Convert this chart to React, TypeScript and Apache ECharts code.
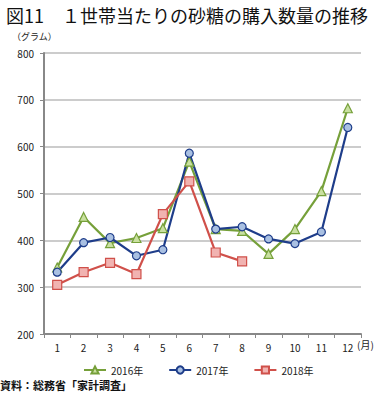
import React, { useEffect, useRef } from "react";
import * as echarts from "echarts";

const months = ["1", "2", "3", "4", "5", "6", "7", "8", "9", "10", "11", "12"];
const s2016 = [342, 450, 394, 405, 426, 568, 424, 420, 371, 424, 505, 682];
const s2017 = [332, 395, 406, 367, 380, 586, 424, 429, 403, 393, 418, 641];
const s2018 = [305, 332, 352, 328, 456, 526, 374, 355];
const seriesNames = ["2016年", "2017年", "2018年"];

const FONT = "'Noto Sans CJK JP', sans-serif";

export default function App() {
  const ref = useRef<HTMLDivElement>(null);
  useEffect(() => {
    if (!ref.current) return;
    const chart = echarts.init(ref.current, undefined, { renderer: "svg" });
    const mk = (name: string, data: number[], color: string, fill: string, symbol: string, size: number) => ({
      name,
      type: "line",
      data,
      symbol,
      symbolSize: size,
      lineStyle: { color, width: 2.2 },
      itemStyle: { color: fill, borderColor: color, borderWidth: 1.2 },
      emphasis: { disabled: true },
    });
    chart.setOption({
      animation: false,
      textStyle: { fontFamily: FONT },
      title: {
        text: "図11　１世帯当たりの砂糖の購入数量の推移",
        left: 1,
        top: 1,
        textStyle: { fontSize: 18, fontWeight: "normal", color: "#111", fontFamily: FONT },
      },
      graphic: [
        { type: "text", left: 12, top: 32, style: { text: "（グラム）", fontSize: 9, fill: "#222", fontFamily: FONT } },
        { type: "text", left: 357, top: 339, style: { text: "(月)", fontSize: 10, fill: "#222", fontFamily: FONT } },
        { type: "text", left: 0, top: 379, style: { text: "資料：総務省「家計調査」", fontSize: 11, fontWeight: "bold", fill: "#111", fontFamily: FONT } },
      ],
      legend: {
        top: 360,
        left: 78,
        itemGap: 25,
        itemWidth: 22,
        itemHeight: 9,
        data: seriesNames,
        textStyle: { fontSize: 10, color: "#222", fontFamily: FONT },
      },
      grid: { left: 44, right: 16, top: 53, bottom: 63, containLabel: false },
      xAxis: {
        type: "category",
        data: months,
        boundaryGap: true,
        axisLine: { lineStyle: { color: "#888", width: 2 } },
        axisTick: { show: true, alignWithLabel: false, length: 4, lineStyle: { color: "#888" } },
        axisLabel: { fontSize: 10, color: "#222", margin: 8 },
        splitLine: { show: false },
      },
      yAxis: {
        type: "value",
        min: 200,
        max: 800,
        interval: 100,
        axisLine: { show: true, lineStyle: { color: "#888", width: 2 } },
        axisTick: { show: true, length: 4, lineStyle: { color: "#888" } },
        axisLabel: { fontSize: 10, color: "#222", margin: 10 },
        splitLine: { lineStyle: { color: "#bbb", width: 1.5 } },
      },
      series: [
        mk(seriesNames[0], s2016, "#76a03a", "#c9e0a0", "triangle", 9),
        mk(seriesNames[1], s2017, "#1e3d8a", "#a9c0e2", "circle", 8),
        mk(seriesNames[2], s2018, "#d0504a", "#f1b3b1", "rect", 9),
      ],
    });
    return () => chart.dispose();
  }, []);
  return <div ref={ref} style={{ width: 377, height: 397, position: "absolute", left: 0, top: 0, background: "#fff" }} />;
}
